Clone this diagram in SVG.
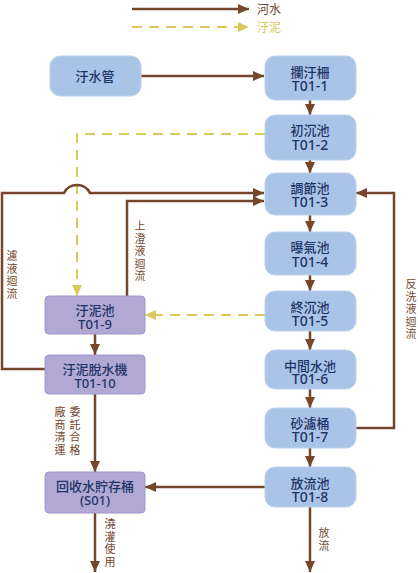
<svg xmlns="http://www.w3.org/2000/svg" width="418" height="573" viewBox="0 0 418 573">
<style>
.bl{fill:#a9c4e6;stroke:#bcd2ee;stroke-width:1}
.pu{fill:#b1a9d4;stroke:#a197cb;stroke-width:1}
.nt{font-family:"Noto Sans","Noto Sans CJK TC",sans-serif;font-size:13px;font-weight:500;fill:#1f3466;text-anchor:middle}
.c{font-size:14px}
.br{fill:none;stroke:#74462b;stroke-width:2.5}
.ye{fill:none;stroke:#d9c85c;stroke-width:2;stroke-dasharray:10 7}
.lb{font-family:"Noto Sans CJK TC",sans-serif;font-size:11px;fill:#74462b;writing-mode:vertical-rl;letter-spacing:1.5px}
</style>
<defs>
<marker id="ab" markerUnits="userSpaceOnUse" markerWidth="11" markerHeight="10" refX="11" refY="5" orient="auto"><path d="M0,0 L11,5 L0,10 z" fill="#74462b"/></marker>
<marker id="ay" markerUnits="userSpaceOnUse" markerWidth="11" markerHeight="10" refX="11" refY="5" orient="auto"><path d="M0,0 L11,5 L0,10 z" fill="#d9c85c"/></marker>
</defs>
<g id="legend">
<line x1="132" y1="9" x2="249" y2="9" class="br" marker-end="url(#ab)"/>
<text x="257" y="13.5" font-family="Noto Sans CJK TC,sans-serif" font-size="12" fill="#74462b">河水</text>
<line x1="132" y1="27" x2="249" y2="27" class="ye" stroke-dasharray="13 11" marker-end="url(#ay)"/>
<text x="257" y="31.5" font-family="Noto Sans CJK TC,sans-serif" font-size="12" fill="#d9c85c">汙泥</text>
</g>
<g id="connectors">
<line x1="141" y1="76" x2="264" y2="76" class="br" marker-end="url(#ab)"/>
<line x1="310" y1="100" x2="310" y2="115" class="br" marker-end="url(#ab)"/>
<line x1="310" y1="160" x2="310" y2="173" class="br" marker-end="url(#ab)"/>
<line x1="310" y1="215" x2="310" y2="232" class="br" marker-end="url(#ab)"/>
<line x1="310" y1="275" x2="310" y2="291" class="br" marker-end="url(#ab)"/>
<line x1="310" y1="331" x2="310" y2="350" class="br" marker-end="url(#ab)"/>
<line x1="310" y1="389" x2="310" y2="408" class="br" marker-end="url(#ab)"/>
<line x1="310" y1="448" x2="310" y2="467" class="br" marker-end="url(#ab)"/>
<line x1="310" y1="507" x2="310" y2="572" class="br" marker-end="url(#ab)"/>
<path d="M265,134 H77 V296" class="ye" marker-end="url(#ay)"/>
<line x1="265" y1="315" x2="145" y2="315" class="ye" marker-end="url(#ay)"/>
<path d="M45,369 H2 V193 H64 A14.6,14.6 0 0 1 90,193 H264" class="br" marker-end="url(#ab)"/>
<path d="M127,296 V201 H264" class="br" marker-end="url(#ab)"/>
<path d="M356,428 H394 V193 H356" class="br" marker-end="url(#ab)"/>
<line x1="95" y1="334" x2="95" y2="355" class="br" marker-end="url(#ab)"/>
<line x1="95" y1="394" x2="95" y2="472" class="br" marker-end="url(#ab)"/>
<line x1="265" y1="487" x2="145" y2="487" class="br" marker-end="url(#ab)"/>
<line x1="95" y1="513" x2="95" y2="572" class="br" marker-end="url(#ab)"/>
<g class="lb">
<text x="140" y="220.5">上澄液迴流</text>
<text x="12" y="250.5">濾液迴流</text>
<text x="411" y="278.5">反洗液迴流</text>
<text x="75" y="406.5">委託合格</text>
<text x="60" y="406.5">廠商清運</text>
<text x="110" y="518.5">澆灌使用</text>
<text x="324" y="527.5">放流</text>
</g>
</g>
<g id="n0"><rect x="50" y="56" width="91" height="40" rx="10" class="bl"/><text x="95" y="81" class="nt" font-size="14">汙水管</text></g>
<g id="n1"><rect x="265" y="56" width="91" height="44" rx="10" class="bl"/><text x="310" y="76.5" class="nt">攔汙柵<tspan x="310" dy="14.5" class="c">T01-1</tspan></text></g>
<g id="n2"><rect x="265" y="115" width="91" height="45" rx="10" class="bl"/><text x="310" y="135" class="nt">初沉池<tspan x="310" dy="14.5" class="c">T01-2</tspan></text></g>
<g id="n3"><rect x="265" y="173" width="91" height="42" rx="10" class="bl"/><text x="310" y="192.5" class="nt">調節池<tspan x="310" dy="14.5" class="c">T01-3</tspan></text></g>
<g id="n4"><rect x="265" y="232" width="91" height="43" rx="10" class="bl"/><text x="310" y="251.5" class="nt">曝氣池<tspan x="310" dy="15" class="c">T01-4</tspan></text></g>
<g id="n5"><rect x="265" y="291" width="91" height="40" rx="10" class="bl"/><text x="310" y="311.5" class="nt">終沉池<tspan x="310" dy="14.5" class="c">T01-5</tspan></text></g>
<g id="n6"><rect x="265" y="350" width="91" height="39" rx="10" class="bl"/><text x="310" y="370.5" class="nt">中間水池<tspan x="310" dy="13.5" class="c">T01-6</tspan></text></g>
<g id="n7"><rect x="265" y="408" width="91" height="40" rx="10" class="bl"/><text x="310" y="427.5" class="nt">砂濾桶<tspan x="310" dy="14.5" class="c">T01-7</tspan></text></g>
<g id="n8"><rect x="265" y="467" width="91" height="40" rx="10" class="bl"/><text x="310" y="487.5" class="nt">放流池<tspan x="310" dy="14.5" class="c">T01-8</tspan></text></g>
<g id="n9"><rect x="45" y="296" width="100" height="38" rx="4" class="pu"/><text x="95" y="314.5" class="nt">汙泥池<tspan x="95" dy="14.5">T01-9</tspan></text></g>
<g id="n10"><rect x="45" y="355" width="100" height="39" rx="4" class="pu"/><text x="95" y="373.5" class="nt">汙泥脫水機<tspan x="95" dy="14.5">T01-10</tspan></text></g>
<g id="n11"><rect x="45" y="472" width="100" height="41" rx="4" class="pu"/><text x="95" y="490.5" class="nt">回收水貯存桶<tspan x="95" dy="14.5">(S01)</tspan></text></g>
</svg>
